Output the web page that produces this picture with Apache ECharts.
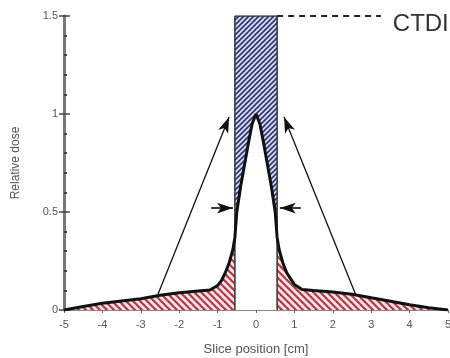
<!DOCTYPE html>
<html>
<head>
<meta charset="utf-8">
<script src="https://cdn.jsdelivr.net/npm/echarts@6/dist/echarts.min.js"></script>
<style>html,body{margin:0;padding:0;background:#fff}#c{width:450px;height:358px}</style>
</head>
<body>
<div id="c"></div>
<script>
// ---- data ----
var xValues = [-5, -4.5, -4, -3.5, -3, -2.5, -2, -1.5, -1.2, -1.0, -0.9, -0.8, -0.7, -0.6, -0.55, -0.5, -0.4, -0.3, -0.2, -0.1, 0, 0.1, 0.2, 0.3, 0.4, 0.5, 0.55, 0.6, 0.7, 0.8, 0.9, 1.0, 1.2, 1.5, 2, 2.5, 3, 3.5, 4, 4.5, 5];
var doseValues = [0, 0.018, 0.034, 0.046, 0.057, 0.075, 0.088, 0.097, 0.102, 0.125, 0.15, 0.19, 0.24, 0.31, 0.37, 0.5, 0.63, 0.74, 0.85, 0.95, 1.0, 0.95, 0.85, 0.74, 0.63, 0.5, 0.37, 0.31, 0.24, 0.19, 0.16, 0.13, 0.105, 0.1, 0.092, 0.08, 0.062, 0.045, 0.027, 0.012, 0];
var sliceHalfWidth = 0.55;
var ctdiValue = 1.5;
var xTicks = [-5, -4, -3, -2, -1, 0, 1, 2, 3, 4, 5];
var yTicks = [0, 0.5, 1, 1.5];
var arrowLeft = [[-2.55, 0.082], [-0.70, 0.985]];
var arrowRight = [[2.6, 0.077], [0.73, 0.985]];
var shortArrowLeft = [[-1.17, 0.52], [-0.6, 0.52]];
var shortArrowRight = [[1.17, 0.52], [0.62, 0.52]];
var ctdiLineEnd = 3.25;

function hatch(size, bg, fg, lw, dir) {
  var c = document.createElement('canvas');
  c.width = size; c.height = size;
  var g = c.getContext('2d');
  g.fillStyle = bg; g.fillRect(0, 0, size, size);
  g.strokeStyle = fg; g.lineWidth = lw;
  var segs = dir === '/' ?
    [[-1, 1, 1, -1], [0, size, size, 0], [size - 1, size + 1, size + 1, size - 1]] :
    [[-1, size - 1, 1, size + 1], [0, 0, size, size], [size - 1, -1, size + 1, 1]];
  segs.forEach(function (s) { g.beginPath(); g.moveTo(s[0], s[1]); g.lineTo(s[2], s[3]); g.stroke(); });
  return c;
}
var bluePat = hatch(5, '#d8dcf0', '#2c3472', 1.6, '/');
var redPat = hatch(7, '#f6e2e2', '#b03a48', 2.2, '\\');

var curve = xValues.map(function (x, i) { return [x, doseValues[i]]; });
var inner = curve.filter(function (p) { return Math.abs(p[0]) <= sliceHalfWidth + 1e-9; });
var leftTail = curve.filter(function (p) { return p[0] <= -sliceHalfWidth + 1e-9; });
var rightTail = curve.filter(function (p) { return p[0] >= sliceHalfWidth - 1e-9; });

var chart = echarts.init(document.getElementById('c'));
var font = 'Liberation Sans, Arial, sans-serif';
function area(data, fill, z) {
  return { type: 'line', data: data, symbol: 'none', silent: true, z: z,
    lineStyle: { width: 0 }, areaStyle: { color: fill, opacity: 1 } };
}
function arrowLine(pts, w, size) {
  return [{ coord: pts[0], lineStyle: { width: w, color: '#111', type: 'solid' }, symbolSize: size },
          { coord: pts[1] }];
}
chart.setOption({
  animation: false,
  grid: { left: 64, right: 2, top: 16, bottom: 48, outerBoundsMode: 'none', containLabel: false },
  xAxis: {
    type: 'value', min: -5, max: 5, interval: 1,
    axisLine: { show: true, onZero: false, lineStyle: { color: '#888', width: 1 } },
    axisTick: { show: true, length: 3, lineStyle: { color: '#666' } },
    splitLine: { show: false },
    axisLabel: { color: '#555', fontSize: 11, fontFamily: font, margin: 9 },
    name: 'Slice position [cm]', nameLocation: 'middle', nameGap: 33,
    nameTextStyle: { color: '#555', fontSize: 13, fontFamily: font }
  },
  yAxis: [{
    type: 'value', min: 0, max: 1.5, interval: 0.5, position: 'left',
    axisLine: { show: true, onZero: false, lineStyle: { color: '#777', width: 3 } },
    axisTick: { show: true, length: 5, lineStyle: { color: '#444', width: 1.5 } },
    splitLine: { show: false },
    axisLabel: { color: '#555', fontSize: 11, fontFamily: font, margin: 6,
      formatter: function (v) { return yTicks.indexOf(v) >= 0 ? String(v) : ''; } },
    name: 'Relative dose', nameLocation: 'middle', nameGap: 42, nameRotate: 90,
    nameTextStyle: { color: '#555', fontSize: 12, fontFamily: font }
  }, {
    type: 'value', min: 0, max: 1.5, interval: 0.5, position: 'left',
    axisLine: { show: false, onZero: false },
    axisTick: { show: true, inside: true, length: 6, lineStyle: { color: '#444', width: 1.5 } },
    minorTick: { show: true, splitNumber: 5, length: 3, lineStyle: { color: '#444', width: 2 } },
    splitLine: { show: false }, axisLabel: { show: false }
  }],
  series: [
    area([[-sliceHalfWidth, ctdiValue], [sliceHalfWidth, ctdiValue]], { image: bluePat, repeat: 'repeat' }, 1),
    area(inner, '#ffffff', 2),
    area(leftTail, { image: redPat, repeat: 'repeat' }, 2),
    area(rightTail, { image: redPat, repeat: 'repeat' }, 2),
    { type: 'line', symbol: 'none', silent: true, z: 3,
      data: [[-sliceHalfWidth, 0], [-sliceHalfWidth, ctdiValue], [sliceHalfWidth, ctdiValue], [sliceHalfWidth, 0]],
      lineStyle: { color: '#333', width: 1.5 } },
    { type: 'line', symbol: 'none', silent: true, z: 4, data: curve,
      lineStyle: { color: '#111', width: 3 },
      markLine: {
        silent: true, symbol: ['none', 'arrow'], label: { show: false },
        data: [
          arrowLine(arrowLeft, 1.3, 11),
          arrowLine(arrowRight, 1.3, 11),
          arrowLine(shortArrowLeft, 1.6, 10),
          arrowLine(shortArrowRight, 1.6, 10),
          [{ coord: [sliceHalfWidth, ctdiValue], symbol: 'none', lineStyle: { width: 2, color: '#222', type: [6, 5] } },
           { coord: [ctdiLineEnd, ctdiValue], symbol: 'none' }]
        ]
      }
    }
  ]
});
var p = chart.convertToPixel({ gridIndex: 0 }, [ctdiLineEnd, ctdiValue]);
chart.setOption({
  graphic: [{ type: 'text', x: p[0] + 12, y: p[1] - 4, silent: true,
    style: { text: 'CTDI', fontSize: 24, fontFamily: font, fill: '#333' } }]
});
</script>
</body>
</html>
